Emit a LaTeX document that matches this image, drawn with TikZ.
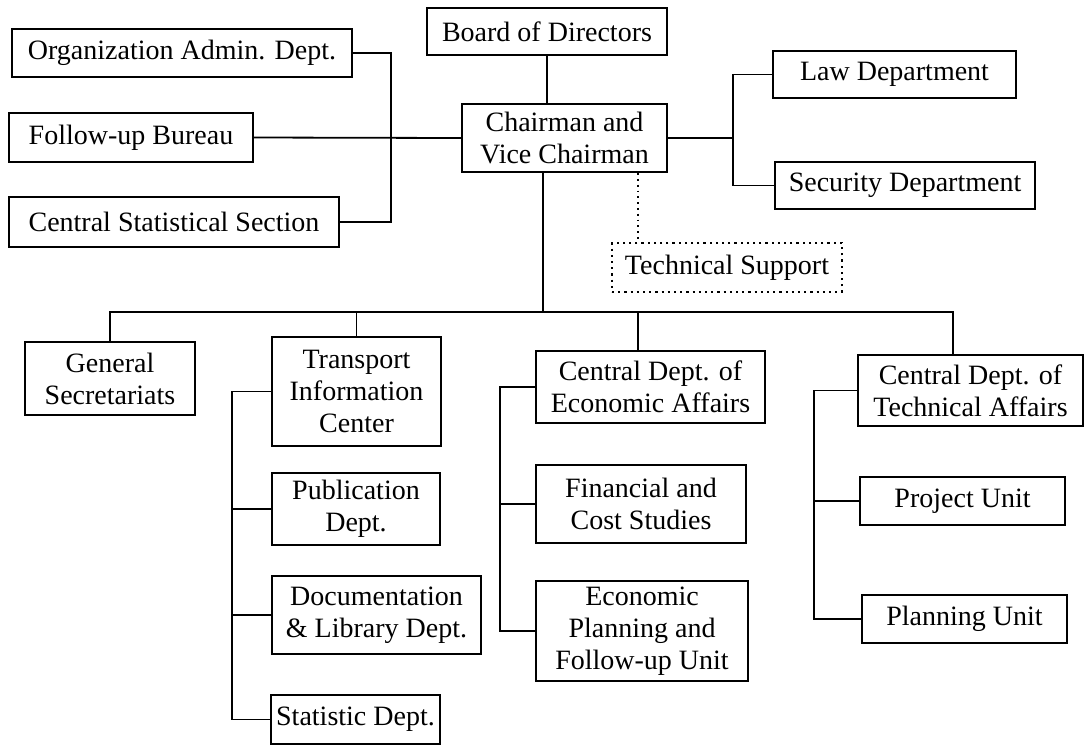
\documentclass[tikz,border=0pt]{standalone}
\usepackage{fontspec}
\setmainfont{Liberation Serif}
\usetikzlibrary{calc}
\tikzset{
	unit/.style={draw, line width=1.1pt, align=center, inner sep=2pt, font=\fontsize{14}{16}\selectfont},
	link/.style={line width=0.9pt},
}
\def\deptbox(#1)(#2,#3)(#4,#5)#6{\node[unit, minimum width=#4*0.5pt, minimum height=#5*0.5pt] (#1) at (#2,#3) {#6};}

\begin{document}
\begin{tikzpicture}[x=0.5pt, y=-0.5pt]
			%%%%% START %%%%%
			\useasboundingbox (0,0) rectangle (1085,745);
			
			\deptbox(board)(547,31.5)(240,47){Board of Directors}
			\deptbox(chair)(564.5,138)(205,68){Chairman and\\Vice Chairman}
			
			\deptbox(orgadmin)(182,53)(340,48){Organization Admin. Dept.}
			\deptbox(followup)(131,137.5)(244,49){Follow-up Bureau}
			\deptbox(centralstat)(174,222)(330,50){Central Statistical Section}
			
			\deptbox(law)(894.5,74.5)(243,47){Law Department}
			\deptbox(security)(905,185.5)(260,47){Security Department}
			
			\node[unit, dotted, minimum width=115pt, minimum height=24.5pt] (techsupport) at (727,267.5) {Technical Support};
			
			\deptbox(gensec)(110,378.5)(170,73){General\\Secretariats}
			\deptbox(transport)(356.5,391.5)(169,109){Transport\\Information\\Center}
			\deptbox(publication)(356,509)(168,72){Publication\\Dept.}
			\deptbox(documentation)(376.5,615)(209,78){Documentation\\\& Library Dept.}
			\deptbox(statistic)(355.5,719.5)(169,49){Statistic Dept.}
			
			\deptbox(econ)(650.5,387)(229,72){Central Dept. of\\Economic Affairs}
			\deptbox(financial)(641,504)(210,78){Financial and\\Cost Studies}
			\deptbox(econplan)(642,631)(212,100){Economic\\Planning and\\Follow-up Unit}
			
			\deptbox(techaff)(970.5,390.5)(225,71){Central Dept. of\\Technical Affairs}
			\deptbox(project)(962.5,501)(205,48){Project Unit}
			\deptbox(planning)(964.5,619)(205,48){Planning Unit}
			
			\coordinate (lbus) at (391,0);
			\coordinate (rbus) at (733,0);
			\coordinate (dotx) at (638,0);
			\coordinate (mbus) at (543,312);
			\coordinate (econdrop) at (638,312);
			\coordinate (techdrop) at (953,312);
			\coordinate (tbus) at (232,0);
			\coordinate (ebus) at (500,0);
			\coordinate (pbus) at (814,0);
			
			% top part
			\draw[link] (board.south) -- (board.south |- chair.north);
			\draw[link] (orgadmin.east) -| (lbus |- centralstat.east) -- (centralstat.east);
			\draw[link] (followup.east) -- (chair.west);
			\draw[link] (law.west) -| (rbus |- security.west) -- (security.west);
			\draw[link] (chair.east) -- (rbus |- chair.east);
			\draw[link, dotted] (chair.south -| dotx) -- (techsupport.north -| dotx);
			
			% main bus
			\draw[link] (chair.south -| mbus) -- (mbus);
			\draw[link] (gensec.north) |- (techdrop) -- (techdrop |- techaff.north);
			\draw[link] (transport.north) -- (transport.north |- mbus);
			\draw[link] (econdrop) -- (econdrop |- econ.north);
			
			% sub units
			\draw[link] (transport.west) -| (tbus |- statistic.west) -- (statistic.west);
			\draw[link] (publication.west) -- (publication.west -| tbus);
			\draw[link] (documentation.west) -- (documentation.west -| tbus);
			\draw[link] (econ.west) -| (ebus |- econplan.west) -- (econplan.west);
			\draw[link] (financial.west) -- (financial.west -| ebus);
			\draw[link] (techaff.west) -| (pbus |- planning.west) -- (planning.west);
			\draw[link] (project.west) -- (project.west -| pbus);
			%%%%% END %%%%%
\end{tikzpicture}
\end{document}
